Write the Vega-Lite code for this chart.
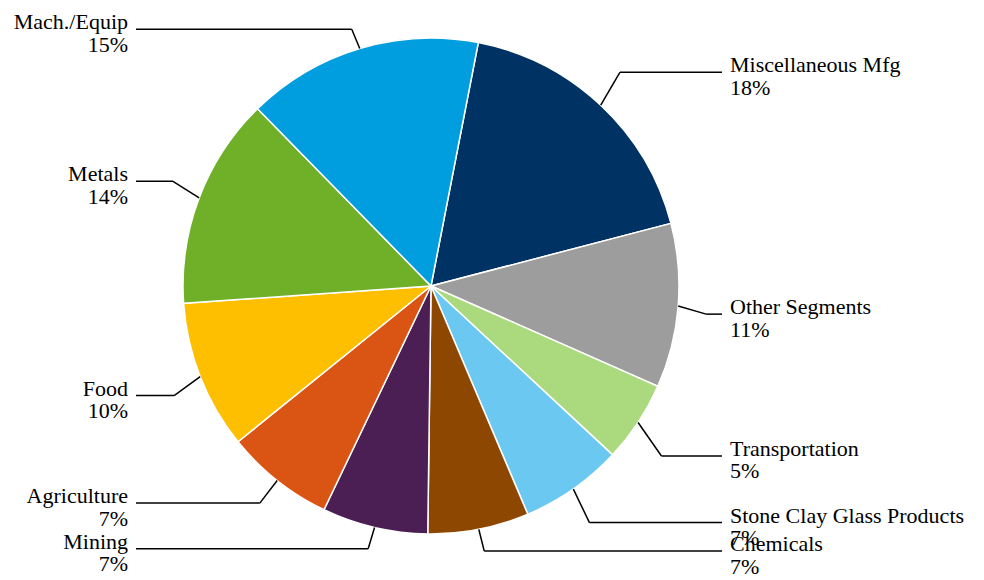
{
  "$schema": "https://vega.github.io/schema/vega-lite/v6.json",
  "width": 984,
  "height": 580,
  "autosize": "none",
  "padding": 0,
  "background": "white",
  "config": {"view": {"stroke": null}},
  "data": {
    "values": [
      {"order": 1, "name": "Miscellaneous Mfg", "pct": "18%", "value": 17.9},
      {"order": 2, "name": "Other Segments", "pct": "11%", "value": 10.7},
      {"order": 3, "name": "Transportation", "pct": "5%", "value": 5.3},
      {"order": 4, "name": "Stone Clay Glass Products", "pct": "7%", "value": 6.7},
      {"order": 5, "name": "Chemicals", "pct": "7%", "value": 6.6},
      {"order": 6, "name": "Mining", "pct": "7%", "value": 6.9},
      {"order": 7, "name": "Agriculture", "pct": "7%", "value": 7.1},
      {"order": 8, "name": "Food", "pct": "10%", "value": 9.7},
      {"order": 9, "name": "Metals", "pct": "14%", "value": 13.8},
      {"order": 10, "name": "Mach./Equip", "pct": "15%", "value": 15.4}
    ]
  },
  "transform": [
    {"window": [{"op": "sum", "field": "value", "as": "cum"}], "sort": [{"field": "order"}], "frame": [null, 0]},
    {"joinaggregate": [{"op": "sum", "field": "value", "as": "total"}]},
    {"calculate": "0.192 + 2*PI*(datum.cum - datum.value)/datum.total", "as": "a0"},
    {"calculate": "0.192 + 2*PI*datum.cum/datum.total", "as": "a1"},
    {"calculate": "(datum.a0 + datum.a1)/2", "as": "mid"},
    {"calculate": "sin(datum.mid)", "as": "s"},
    {"calculate": "cos(datum.mid)", "as": "c"},
    {"calculate": "431 + 248*datum.s", "as": "ex"},
    {"calculate": "286 - 248*datum.c", "as": "ey"},
    {"calculate": "clamp(287 - datum.c*(330 - 60*abs(datum.c)) - 12*datum.s*datum.c, 23, 551)", "as": "ly"},
    {"calculate": "datum.ex + 28*datum.s", "as": "bx"},
    {"calculate": "datum.s > 0 ? 722 : 136", "as": "hx"},
    {"calculate": "datum.s > 0 ? 730 : 128", "as": "tx"},
    {"calculate": "datum.s > 0 ? 'right' : 'left'", "as": "side"},
    {"calculate": "datum.name + '\\n' + datum.pct", "as": "label"}
  ],
  "layer": [
    {
      "mark": {"type": "arc", "radius": 248, "stroke": "white", "strokeWidth": 1.5},
      "encoding": {
        "theta": {"field": "a0", "type": "quantitative", "scale": null, "stack": null},
        "theta2": {"field": "a1"},
        "color": {
          "field": "name",
          "type": "nominal",
          "legend": null,
          "scale": {
            "domain": ["Miscellaneous Mfg", "Other Segments", "Transportation", "Stone Clay Glass Products", "Chemicals", "Mining", "Agriculture", "Food", "Metals", "Mach./Equip"],
            "range": ["#003263", "#9D9D9D", "#ABD97E", "#6BC8F1", "#8E4700", "#4C1F54", "#DA5514", "#FDBF00", "#6FB028", "#009DDF"]
          }
        },
        "x": {"datum": 431, "type": "quantitative", "stack": null, "axis": null, "scale": {"domain": [0, 984], "range": [0, 984], "nice": false, "zero": false}},
        "y": {"datum": 286, "type": "quantitative", "stack": null, "axis": null, "scale": {"domain": [0, 580], "range": [0, 580], "nice": false, "zero": false}}
      }
    },
    {
      "mark": {"type": "rule", "color": "black", "strokeWidth": 1.5},
      "encoding": {
        "x": {"field": "ex", "type": "quantitative", "axis": null, "scale": {"domain": [0, 984], "range": [0, 984], "nice": false, "zero": false}},
        "y": {"field": "ey", "type": "quantitative", "axis": null, "scale": {"domain": [0, 580], "range": [0, 580], "nice": false, "zero": false}},
        "x2": {"field": "bx"},
        "y2": {"field": "ly"}
      }
    },
    {
      "mark": {"type": "rule", "color": "black", "strokeWidth": 1.5},
      "encoding": {
        "x": {"field": "bx", "type": "quantitative", "axis": null, "scale": {"domain": [0, 984], "range": [0, 984], "nice": false, "zero": false}},
        "x2": {"field": "hx"},
        "y": {"field": "ly", "type": "quantitative", "axis": null, "scale": {"domain": [0, 580], "range": [0, 580], "nice": false, "zero": false}}
      }
    },
    {
      "transform": [{"filter": "datum.side == 'right'"}],
      "mark": {"type": "text", "align": "left", "baseline": "alphabetic", "font": "Liberation Serif", "fontSize": 22, "lineBreak": "\n", "lineHeight": 22.5, "color": "black"},
      "encoding": {
        "x": {"field": "tx", "type": "quantitative", "axis": null, "scale": {"domain": [0, 984], "range": [0, 984], "nice": false, "zero": false}},
        "y": {"field": "ly", "type": "quantitative", "axis": null, "scale": {"domain": [0, 580], "range": [0, 580], "nice": false, "zero": false}},
        "text": {"field": "label", "type": "nominal"}
      }
    },
    {
      "transform": [{"filter": "datum.side == 'left'"}],
      "mark": {"type": "text", "align": "right", "baseline": "alphabetic", "font": "Liberation Serif", "fontSize": 22, "lineBreak": "\n", "lineHeight": 22.5, "color": "black"},
      "encoding": {
        "x": {"field": "tx", "type": "quantitative", "axis": null, "scale": {"domain": [0, 984], "range": [0, 984], "nice": false, "zero": false}},
        "y": {"field": "ly", "type": "quantitative", "axis": null, "scale": {"domain": [0, 580], "range": [0, 580], "nice": false, "zero": false}},
        "text": {"field": "label", "type": "nominal"}
      }
    }
  ]
}
